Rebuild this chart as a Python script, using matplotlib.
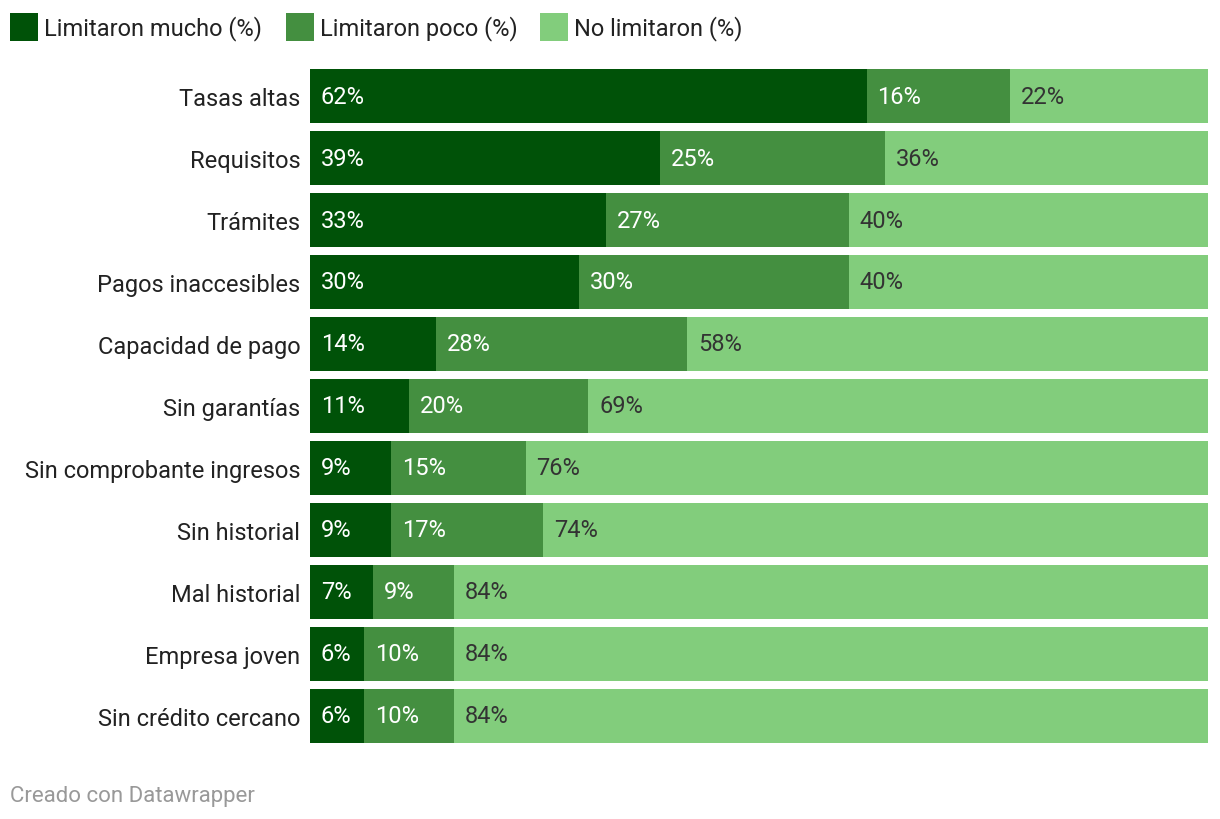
import matplotlib.pyplot as plt
from matplotlib.patches import Rectangle

plt.rcParams['font.family'] = ['Roboto', 'DejaVu Sans']

categories = ["Tasas altas", "Requisitos", "Trámites", "Pagos inaccesibles",
              "Capacidad de pago", "Sin garantías", "Sin comprobante ingresos",
              "Sin historial", "Mal historial", "Empresa joven", "Sin crédito cercano"]
mucho = [62, 39, 33, 30, 14, 11, 9, 9, 7, 6, 6]
poco = [16, 25, 27, 30, 28, 20, 15, 17, 9, 10, 10]
no_lim = [22, 36, 40, 40, 58, 69, 76, 74, 84, 84, 84]

series_names = ["Limitaron mucho (%)", "Limitaron poco (%)", "No limitaron (%)"]
colors = ["#005208", "#448f40", "#82cd7c"]
text_colors = ["white", "white", "#333333"]

W, H = 1220, 820
FS = 17
fig = plt.figure(figsize=(W / 100, H / 100), dpi=100)
ax = fig.add_axes([310 / W, 1 - 744 / H, (1208 - 310) / W, (744 - 70) / H])

bar_h = 54 / 62
y = list(range(len(categories)))
left = [0] * len(categories)
for vals, col, tcol in zip([mucho, poco, no_lim], colors, text_colors):
    ax.barh(y, vals, left=left, height=bar_h, color=col, linewidth=0)
    for yi, l, v in zip(y, left, vals):
        ax.text(l + 1.2, yi, f"{v}%", va="center", ha="left",
                color=tcol, fontsize=FS)
    left = [a + b for a, b in zip(left, vals)]

ax.set_xlim(0, 100)
ax.set_ylim(len(categories) - 1 + bar_h / 2, -bar_h / 2)
ax.set_yticks(y)
ax.set_yticklabels(categories, fontsize=FS, color="#222222")
ax.tick_params(axis="y", length=0, pad=7)
ax.set_xticks([])
for s in ax.spines.values():
    s.set_visible(False)

# legend
legend_x = [10, 286, 540]
for x0, name, col in zip(legend_x, series_names, colors):
    fig.patches.append(Rectangle((x0 / W, 1 - 42 / H), 28 / W, 28 / H,
                                 transform=fig.transFigure, color=col, linewidth=0))
    fig.text((x0 + 34) / W, 1 - 29 / H, name, va="center", ha="left",
             fontsize=FS, color="#222222")

fig.text(10 / W, 1 - 797 / H, "Creado con Datawrapper", va="center", ha="left",
         fontsize=16, color="#999999")

fig.savefig("out.png", dpi=100)
